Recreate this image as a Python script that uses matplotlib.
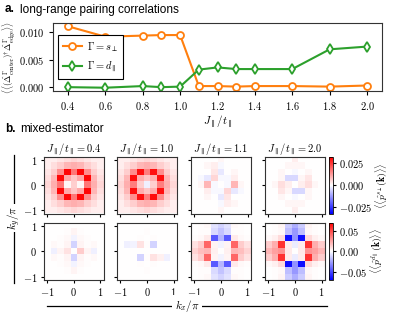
import numpy as np
import matplotlib
matplotlib.use('Agg')
import matplotlib.pyplot as plt
from matplotlib.lines import Line2D

plt.rcParams['font.family'] = 'serif'
plt.rcParams['font.serif'] = ['cmr10']
plt.rcParams['mathtext.fontset'] = 'cm'
plt.rcParams['axes.formatter.use_mathtext'] = True
plt.rcParams['axes.unicode_minus'] = True

# panel a data
J_vals = [0.4, 0.6, 0.8, 0.9, 1.0, 1.1, 1.2, 1.3, 1.4, 1.6, 1.8, 2.0]
corr_s = [0.0111, 0.0092, 0.0094, 0.0095, 0.0095, 0.0002, 0.0002, 0.0001, 0.0002, 0.0002, 0.0001, 0.0003]
corr_d = [0.0000, -0.0001, 0.0002, 0.0000, 0.0001, 0.0032, 0.0036, 0.0033, 0.0033, 0.0033, 0.0069, 0.0074]

# panel b data, units of 1e-3, rows ky = 1 ... -1, cols kx = -1 ... 1
panel_J = ['0.4', '1.0', '1.1', '2.0']

s_J04 = [[2, 2, 3, 4, 5, 4, 3, 2, 2],
         [2, 4, 6, 9, 10, 9, 6, 4, 2],
         [3, 6, 14, 31, 17, 31, 14, 6, 3],
         [4, 9, 31, 11, 7, 11, 31, 9, 4],
         [5, 10, 17, 1, 6, 1, 17, 10, 5],
         [4, 9, 31, 11, 7, 11, 31, 9, 4],
         [3, 6, 14, 31, 17, 31, 14, 6, 3],
         [2, 4, 6, 9, 10, 9, 6, 4, 2],
         [2, 2, 3, 4, 5, 4, 3, 2, 2]]
s_J10 = [[2, 2, 3, 4, 5, 4, 3, 2, 2],
         [2, 4, 6, 9, 10, 9, 6, 4, 2],
         [3, 6, 14, 30, 16, 30, 14, 6, 3],
         [4, 9, 30, 10, 7, 10, 30, 9, 4],
         [5, 10, 16, 6, -2, 6, 16, 10, 5],
         [4, 9, 30, 10, 7, 10, 30, 9, 4],
         [3, 6, 14, 30, 16, 30, 14, 6, 3],
         [2, 4, 6, 9, 10, 9, 6, 4, 2],
         [2, 2, 3, 4, 5, 4, 3, 2, 2]]
s_J11 = [[0, 0, 0, 0, 1, 0, 0, 0, 0],
         [0, 0, 1, 2, -1, 0, 0, 0, 0],
         [0, 0, 0, 3, -3, 0, 1, 0, 0],
         [0, -1, -3, 5, -1, -1, 2, 0, 0],
         [0, 1, 9, -1, 0, -1, 9, 1, 0],
         [0, 0, 2, -1, -1, 5, -3, -1, 0],
         [0, 0, 1, 0, -3, 3, 0, 0, 0],
         [0, 0, 0, 0, -1, 2, 1, 0, 0],
         [0, 0, 0, 0, 1, 0, 0, 0, 0]]
s_J20 = [[0, 0, 0, 0, 2, 0, 0, 0, 0],
         [0, 0, 0, 1, 1, 1, 0, 0, 0],
         [0, 0, 1, 0, -1, 0, 1, 0, 0],
         [0, 0, 1, -5, -5, 1, 3, 0, 0],
         [0, 1, 4, 2, 0, 2, 4, 1, 0],
         [0, 0, 3, 1, -5, -5, 1, 0, 0],
         [0, 0, 1, 0, -1, 0, 1, 0, 0],
         [0, 0, 0, 1, 1, 1, 0, 0, 0],
         [0, 0, 0, 0, 2, 0, 0, 0, 0]]
d_J04 = [[0, 0, 0, 0, 0, 0, 0, 0, 0],
         [0, 0, 0, 1, 3, 1, 0, 0, 0],
         [0, 0, 1, 2, -3, 2, 1, 0, 0],
         [0, 2, 1, 3, -12, 3, 1, 2, 0],
         [0, -4, 3, 8, 0, 14, 3, -4, 0],
         [0, 2, 1, 3, -12, 3, 1, 2, 0],
         [0, 0, 1, 2, -3, 2, 1, 0, 0],
         [0, 0, 0, 1, 3, 1, 0, 0, 0],
         [0, 0, 0, 0, 0, 0, 0, 0, 0]]
d_J10 = [[0, 0, 0, 0, 0, 0, 0, 0, 0],
         [0, 0, 0, 0, 1, 0, 0, 0, 0],
         [0, 0, 0, 1, 0, 1, 0, 0, 0],
         [0, -4, -3, 8, 1, -12, 0, 0, 0],
         [0, 0, 0, 0, 0, 0, 0, 0, 0],
         [0, 0, 0, -12, 1, 8, 4, -4, 0],
         [0, 0, 0, 1, 0, 1, 0, 0, 0],
         [0, 0, 0, 0, 1, 0, 0, 0, 0],
         [0, 0, 0, 0, 0, 0, 0, 0, 0]]
d_J11 = [[0, 1, 2, -8, -12, -8, 2, 1, 0],
         [0, 1, 1, -10, -16, -10, 1, 1, 0],
         [1, 2, 6, -45, -20, -45, 6, 2, 1],
         [8, 14, 42, 3, -3, 3, 42, 14, 8],
         [12, 18, 20, 4, 0, 4, 20, 18, 12],
         [8, 14, 42, 3, -3, 3, 42, 14, 8],
         [1, 2, 6, -45, -20, -45, 6, 2, 1],
         [0, 1, 1, -10, -16, -10, 1, 1, 0],
         [0, 1, 2, -8, -12, -8, 2, 1, 0]]
d_J20 = [[0, 1, 3, -14, -22, -14, 3, 1, 0],
         [0, 1, 2, -18, -28, -18, 2, 1, 0],
         [2, 4, 10, -66, -30, -66, 10, 4, 2],
         [14, 22, 56, 5, -5, 5, 56, 22, 14],
         [20, 26, 30, 6, 0, 6, 30, 26, 20],
         [14, 22, 56, 5, -5, 5, 56, 22, 14],
         [2, 4, 10, -66, -30, -66, 10, 4, 2],
         [0, 1, 2, -18, -28, -18, 2, 1, 0],
         [0, 1, 3, -14, -22, -14, 3, 1, 0]]

s_maps = [s_J04, s_J10, s_J11, s_J20]
d_maps = [d_J04, d_J10, d_J11, d_J20]

W, H = 393, 314
fig = plt.figure(figsize=(W / 100, H / 100), dpi=100)


def px(x0, y0, x1, y1):
    return [x0 / W, 1 - y1 / H, (x1 - x0) / W, (y1 - y0) / H]


sans = 'Liberation Sans'
fig.text(5 / W, 1 - 12.5 / H, 'a.', fontsize=8.5, fontweight='bold', family=sans)
fig.text(20 / W, 1 - 12.5 / H, 'long-range pairing correlations', fontsize=8.5, family=sans)
fig.text(5 / W, 1 - 131.5 / H, 'b.', fontsize=8.5, fontweight='bold', family=sans)
fig.text(20 / W, 1 - 131.5 / H, 'mixed-estimator', fontsize=8.5, family=sans)

# ---- panel a
ax = fig.add_axes(px(53, 23, 382, 91))
ax.plot(J_vals, corr_s, '-o', color='#ff7f0e', mfc='white', ms=5, mew=1.3, lw=1.5,
        label=r'$\Gamma = s_\perp$')
ax.plot(J_vals, corr_d, '-d', color='#2ca02c', mfc='white', ms=5.5, mew=1.3, lw=1.5,
        label=r'$\Gamma = d_\parallel$')
ax.set_ylim(-0.0007, 0.0117)
ax.set_yticks([0.0, 0.005, 0.010])
ax.set_xticks([0.4, 0.6, 0.8, 1.0, 1.2, 1.4, 1.6, 1.8, 2.0])
ax.tick_params(labelsize=7.5, length=3)
ax.set_xlabel(r'$J_\parallel/t_\parallel$', fontsize=8, labelpad=1)
ax.set_ylabel(r'$\langle\langle(\hat{\Delta}^{\Gamma}_{\rm center})^{\dagger}\hat{\Delta}^{\Gamma}_{\rm edge}\rangle\rangle$',
              fontsize=6.3, labelpad=1)
for sp in ax.spines.values():
    sp.set_color('#333333')
leg = ax.legend(loc='center left', bbox_to_anchor=(0.0, 0.5), fontsize=7.5, fancybox=False,
                edgecolor='black', framealpha=1, handlelength=1.8, borderpad=0.45,
                labelspacing=0.55, handletextpad=0.5)
leg.get_frame().set_linewidth(0.8)

# ---- panel b
lefts = [43.5, 117, 191, 265]
pw = 60
rows_y = [(157, 213.5), (222.5, 280)]
lims = [0.032, 0.07]
ext = [-1.125, 1.125, -1.125, 1.125]

for r, (maps, vmax) in enumerate([(s_maps, lims[0]), (d_maps, lims[1])]):
    y0, y1 = rows_y[r]
    for c in range(4):
        a = fig.add_axes(px(lefts[c], y0, lefts[c] + pw, y1))
        im = a.imshow(np.array(maps[c]) * 1e-3, cmap='bwr', vmin=-vmax, vmax=vmax,
                      extent=ext, origin='upper', aspect='auto', interpolation='nearest')
        a.set_xticks([-1, 0, 1])
        a.set_yticks([-1, 0, 1])
        a.tick_params(labelsize=7.5, length=2.5, pad=2)
        if c > 0:
            a.set_yticklabels([])
        if r == 0:
            a.set_xticklabels([])
            a.set_title(r'$J_\parallel/t_\parallel=$' + panel_J[c], fontsize=7.5, pad=3)
        for sp in a.spines.values():
            sp.set_color('#333333')
    cax = fig.add_axes(px(328.5, y0, 333, y1))
    cb = fig.colorbar(im, cax=cax)
    if r == 0:
        cb.set_ticks([-0.025, 0.0, 0.025])
        cb.set_label(r'$\langle\langle\hat{p}^{s_\perp}(\mathbf{k})\rangle\rangle$', fontsize=7, labelpad=1)
    else:
        cb.set_ticks([-0.05, 0.0, 0.05])
        cb.set_label(r'$\langle\langle\hat{p}^{d_\parallel}(\mathbf{k})\rangle\rangle$', fontsize=7, labelpad=1)
    cb.ax.tick_params(labelsize=7.5, length=2.5, pad=2)
    cb.outline.set_linewidth(0.6)

# shared axis labels with long lines
fig.add_artist(Line2D([14 / W, 14 / W], [1 - 155 / H, 1 - 283 / H], color='black', lw=0.9))
fig.text(14 / W, 1 - 218 / H, r'$k_y/\pi$', rotation=90, ha='center', va='center', fontsize=8,
         bbox=dict(facecolor='white', edgecolor='none', pad=1.5))
fig.add_artist(Line2D([47 / W, 327 / W], [1 - 305.5 / H, 1 - 305.5 / H], color='black', lw=0.9))
fig.text(187 / W, 1 - 305.5 / H, r'$k_x/\pi$', ha='center', va='center', fontsize=8,
         bbox=dict(facecolor='white', edgecolor='none', pad=1.5))

fig.savefig('out.png', dpi=100)
